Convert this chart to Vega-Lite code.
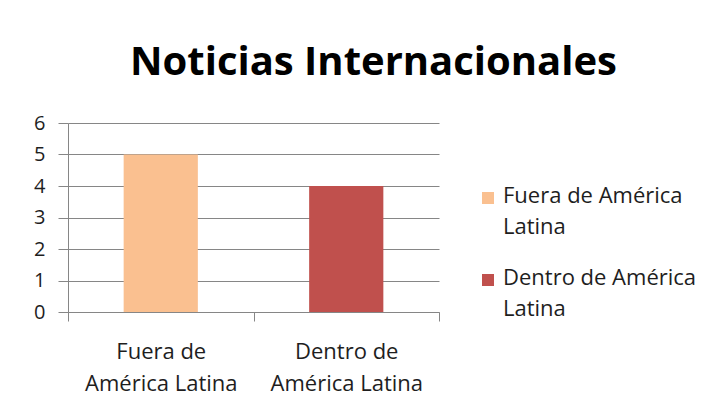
{
  "$schema": "https://vega.github.io/schema/vega-lite/v6.json",
  "autosize": "none",
  "padding": {"left": 68, "top": 123, "right": 280, "bottom": 96},
  "width": 371,
  "height": 189,
  "background": "white",
  "title": {
    "text": "Noticias Internacionales",
    "font": "Open Sans",
    "fontSize": 40,
    "fontWeight": "bold",
    "color": "#000000",
    "anchor": "middle",
    "frame": "group",
    "baseline": "alphabetic",
    "dx": 120,
    "dy": 50,
    "offset": 48
  },
  "data": {
    "values": [
      {"categoria": "Fuera de América Latina", "noticias": 5},
      {"categoria": "Dentro de América Latina", "noticias": 4}
    ]
  },
  "mark": {"type": "bar", "width": {"band": 0.4}},
  "encoding": {
    "x": {
      "field": "categoria",
      "type": "nominal",
      "sort": null,
      "title": null,
      "scale": {"paddingInner": 0, "paddingOuter": 0},
      "axis": {
        "tickBand": "extent",
        "labelAngle": 0,
        "labelFont": "Open Sans",
        "labelFontSize": 22,
        "labelColor": "#1e1e1e",
        "labelBaseline": "alphabetic",
        "labelPadding": 37,
        "labelLineHeight": 32,
        "labelExpr": "datum.label == '' || datum.label == null ? '' : [replace(datum.label, ' América Latina', ''), 'América Latina']",
        "domainColor": "#868686",
        "tickColor": "#868686",
        "tickSize": 9,
        "grid": false
      }
    },
    "y": {
      "field": "noticias",
      "type": "quantitative",
      "title": null,
      "scale": {"domain": [0, 6], "nice": false},
      "axis": {
        "values": [0, 1, 2, 3, 4, 5, 6],
        "labelFont": "Open Sans",
        "labelFontSize": 20,
        "labelColor": "#1e1e1e",
        "labelPadding": 13,
        "domainColor": "#868686",
        "tickColor": "#868686",
        "tickSize": 10,
        "gridColor": "#868686",
        "grid": true
      }
    },
    "color": {
      "field": "categoria",
      "type": "nominal",
      "sort": null,
      "scale": {
        "domain": ["Fuera de América Latina", "Dentro de América Latina"],
        "range": ["#FAC090", "#C0504D"]
      },
      "legend": {
        "title": null,
        "orient": "none",
        "legendX": 409,
        "legendY": 64,
        "symbolType": "square",
        "symbolSize": 144,
        "symbolStrokeWidth": 0,
        "labelFont": "Open Sans",
        "labelFontSize": 22,
        "labelColor": "#1e1e1e",
        "labelOffset": 4,
        "labelLimit": 300,
        "rowPadding": 29,
        "labelExpr": "[replace(datum.label, ' Latina', ''), 'Latina']",
        "encode": {
          "labels": {
            "update": {
              "lineHeight": {"value": 31},
              "baseline": {"value": "top"},
              "dy": {"value": -12}
            }
          }
        }
      }
    }
  },
  "config": {
    "view": {"stroke": null},
    "axis": {"domainWidth": 1, "tickWidth": 1, "gridWidth": 1}
  }
}
